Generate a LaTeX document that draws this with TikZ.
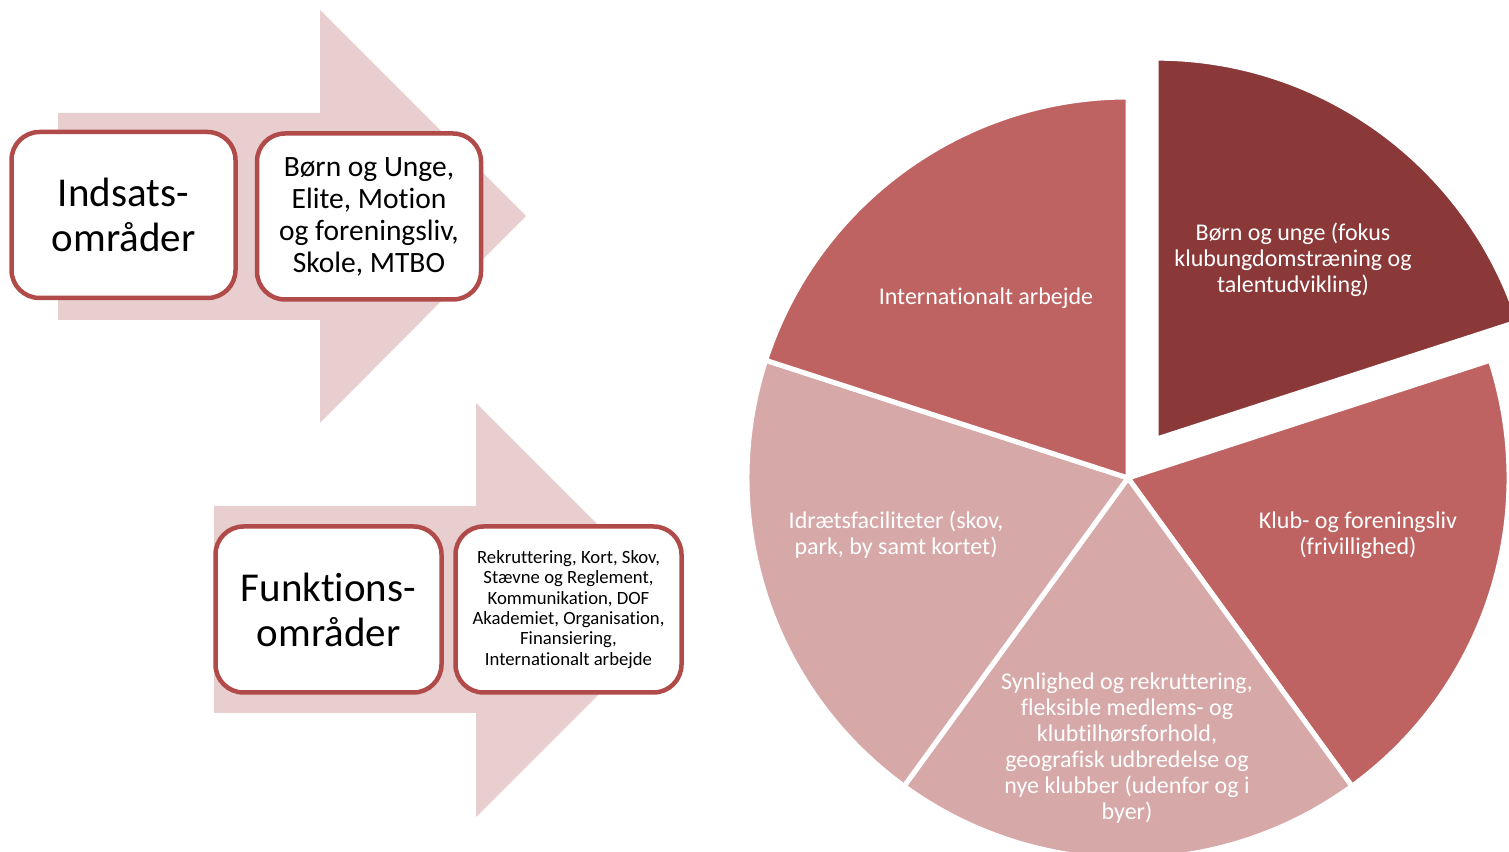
\documentclass[tikz,border=0pt]{standalone}
\usepackage{fontspec}
\setmainfont{Carlito}[Ligatures={NoCommon}]
\definecolor{arrowpink}{HTML}{E8CECE}
\definecolor{boxred}{HTML}{B04B49}
\definecolor{sldark}{HTML}{8B3838}
\definecolor{slmed}{HTML}{BE6361}
\definecolor{sllight}{HTML}{D7A8A8}
\tikzset{
  bigarrow/.style={fill=arrowpink, draw=none},
  areabox/.style={draw=boxred, line width=4.5pt, fill=white, rounded corners=28pt, align=center, inner sep=0pt, text=black},
  slice/.style={draw=white, line width=5pt, line join=miter},
  slicelabel/.style={text=white, align=center, font=\fontsize{24}{26}\selectfont}
}
\begin{document}
\begin{tikzpicture}[x=1pt,y=1pt]
\useasboundingbox (0,0) rectangle (1509,851);
% arrows
\fill[bigarrow] (58,738) -- (320,738) -- (320,841) -- (526,635) -- (320,428) -- (320,531) -- (58,531) -- cycle;
\fill[bigarrow] (214,345) -- (476,345) -- (476,448) -- (683,241) -- (476,34) -- (476,138) -- (214,138) -- cycle;
% boxes
\node[areabox, minimum width=224pt, minimum height=166pt, font=\fontsize{41}{45}\selectfont] (indsats) at (123.5,636) {Indsats-\\områder};
\node[areabox, minimum width=224pt, minimum height=166pt, font=\fontsize{29.5}{32}\selectfont] (indsatsliste) at (369,634.5) {Børn og Unge,\\Elite, Motion\\og foreningsliv,\\Skole, MTBO};
\node[areabox, minimum width=226pt, minimum height=166pt, font=\fontsize{41}{45}\selectfont] (funktion) at (328.5,241.5) {Funktions-\\områder};
\node[areabox, minimum width=226pt, minimum height=166pt, font=\fontsize{18.7}{20.4}\selectfont] (funktionliste) at (568.5,241.5) {Rekruttering, Kort, Skov,\\Stævne og Reglement,\\Kommunikation, DOF\\Akademiet, Organisation,\\Finansiering,\\Internationalt arbejde};
% pie
\begin{scope}[shift={(1128,373)}]
  \filldraw[slice, fill=sldark, shift={(54:48)}] (0,0) -- (90:381) arc[start angle=90, end angle=18, radius=381] -- cycle;
  \filldraw[slice, fill=slmed] (0,0) -- (18:381) arc[start angle=18, end angle=-54, radius=381] -- cycle;
  \filldraw[slice, fill=sllight] (0,0) -- (-54:381) arc[start angle=-54, end angle=-126, radius=381] -- cycle;
  \filldraw[slice, fill=sllight] (0,0) -- (-126:381) arc[start angle=-126, end angle=-198, radius=381] -- cycle;
  \filldraw[slice, fill=slmed] (0,0) -- (162:381) arc[start angle=162, end angle=90, radius=381] -- cycle;
\end{scope}
\node[slicelabel] (boern) at (1293,591) {Børn og unge (fokus\\klubungdomstræning og\\talentudvikling)};
\node[slicelabel] (intl) at (986,553) {Internationalt arbejde};
\node[slicelabel] (idraet) at (896,316) {Idrætsfaciliteter (skov,\\park, by samt kortet)};
\node[slicelabel] (klub) at (1358,316) {Klub- og foreningsliv\\(frivillighed)};
\node[slicelabel] (synlig) at (1127,103) {Synlighed og rekruttering,\\fleksible medlems- og\\klubtilhørsforhold,\\geografisk udbredelse og\\nye klubber (udenfor og i\\byer)};
\end{tikzpicture}
\end{document}
